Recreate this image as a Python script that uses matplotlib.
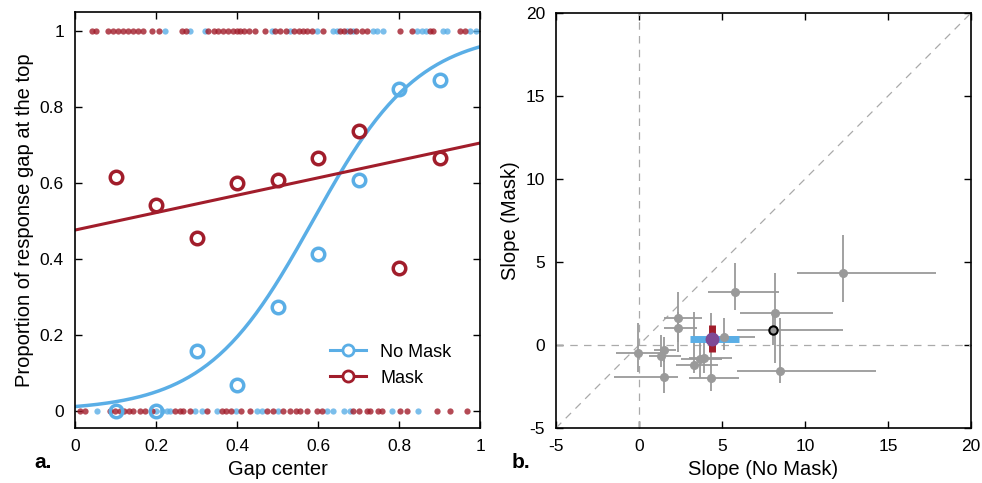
import matplotlib
matplotlib.use("Agg")
from matplotlib import pyplot as plt
from matplotlib.lines import Line2D
import numpy as np

plt.rcParams["font.family"] = ["Liberation Sans", "DejaVu Sans"]
plt.rcParams["axes.unicode_minus"] = False

blue = "#5aaee6"
red = "#a11d2b"
gray = "#9a9a9a"

# ---- panel a data ----
gap_centers = [0.1, 0.2, 0.3, 0.4, 0.5, 0.6, 0.7, 0.8, 0.9]
prop_nomask = [0.0, 0.0, 0.158, 0.068, 0.274, 0.413, 0.608, 0.847, 0.871]
prop_mask = [0.616, 0.542, 0.455, 0.600, 0.608, 0.666, 0.737, 0.376, 0.666]

# fitted curves (logistic for No Mask, linear for Mask)
nomask_mid = 0.587
nomask_k = 7.6
mask_intercept = 0.476
mask_slope = 0.229

# single trials (rug) at top (1) and bottom (0)
top_red = [0.041, 0.053, 0.082, 0.094, 0.107, 0.119, 0.132, 0.144, 0.156, 0.169,
           0.189, 0.208, 0.263, 0.274, 0.329, 0.342, 0.354, 0.366, 0.378, 0.390,
           0.399, 0.407, 0.418, 0.430, 0.444, 0.469, 0.495, 0.507, 0.520, 0.540,
           0.552, 0.562, 0.572, 0.584, 0.613, 0.655, 0.663, 0.679, 0.695, 0.708,
           0.720, 0.802, 0.831, 0.876, 0.885, 0.951, 0.963]
top_blue = [0.222, 0.284, 0.321, 0.486, 0.530, 0.597, 0.638, 0.647, 0.671, 0.687,
            0.737, 0.745, 0.761, 0.844, 0.856, 0.866, 0.909, 0.918, 0.975, 0.990]
bot_red = [0.012, 0.025, 0.086, 0.098, 0.110, 0.122, 0.134, 0.144, 0.160, 0.172,
           0.189, 0.247, 0.259, 0.267, 0.284, 0.325, 0.362, 0.374, 0.386, 0.410,
           0.432, 0.473, 0.490, 0.514, 0.531, 0.545, 0.556, 0.572, 0.597, 0.610,
           0.687, 0.700, 0.720, 0.728, 0.749, 0.757, 0.802, 0.819, 0.893, 0.926,
           0.967]
bot_blue = [0.054, 0.200, 0.214, 0.226, 0.235, 0.296, 0.313, 0.350, 0.398, 0.449,
            0.461, 0.502, 0.622, 0.638, 0.663, 0.679, 0.782, 0.848]

# ---- panel b data ----
slope_nomask = [-0.05, 1.3, 1.5, 1.5, 2.37, 2.35, 3.3, 3.7, 3.9, 4.35, 5.1, 5.8, 8.2, 8.5, 12.3]
slope_mask = [-0.5, -0.64, -0.3, -1.9, 1.61, 1.04, -1.2, -0.86, -0.8, -2.0, 0.5, 3.2, 1.95, -1.55, 4.32]
nomask_lo = [-1.4, 0.6, 0.9, -1.5, 1.5, 1.5, 2.2, 2.5, 3.0, 3.0, 4.2, 4.15, 6.1, 5.9, 9.5]
nomask_hi = [1.4, 2.5, 2.2, 2.35, 3.8, 3.5, 4.75, 5.0, 5.6, 6.0, 7.0, 8.45, 11.7, 14.3, 17.9]
mask_lo = [-1.6, -1.3, -1.0, -2.9, 0.2, -0.4, -1.7, -2.0, -1.7, -2.8, -0.3, 2.1, -1.1, -2.3, 2.6]
mask_hi = [1.3, 0.6, 0.5, -0.9, 3.2, 2.0, 2.0, 0.4, 0.2, 1.9, 1.6, 4.95, 4.35, 1.6, 6.6]

# highlighted subject
hl_x, hl_y = 8.1, 0.88
hl_xlo, hl_xhi, hl_ylo, hl_yhi = 5.9, 12.3, 0.0, 1.8

# group mean
mean_x, mean_y = 4.4, 0.35
mean_xlo, mean_xhi = 3.1, 6.0
mean_ylo, mean_yhi = -0.45, 1.2

fig = plt.figure(figsize=(9.82, 4.83), dpi=100)
ax1 = fig.add_axes([0.0764, 0.1139, 0.4124, 0.8613])
ax2 = fig.add_axes([0.5662, 0.1139, 0.4226, 0.8592])

# ---- panel a ----
ax1.plot(bot_blue, np.zeros(len(bot_blue)), "o", color=blue, ms=4.5, mec="none", alpha=0.8)
ax1.plot(top_blue, np.ones(len(top_blue)), "o", color=blue, ms=4.5, mec="none", alpha=0.8)
ax1.plot(bot_red, np.zeros(len(bot_red)), "o", color=red, ms=4.5, mec="none", alpha=0.8)
ax1.plot(top_red, np.ones(len(top_red)), "o", color=red, ms=4.5, mec="none", alpha=0.8)

xs = np.linspace(0, 1, 200)
ax1.plot(xs, 1 / (1 + np.exp(-nomask_k * (xs - nomask_mid))), color=blue, lw=2.5)
ax1.plot(xs, mask_intercept + mask_slope * xs, color=red, lw=2.2)
ax1.plot(gap_centers, prop_nomask, "o", mfc="none", mec=blue, mew=2.5, ms=9)
ax1.plot(gap_centers, prop_mask, "o", mfc="none", mec=red, mew=2.5, ms=9)

ax1.set_xlim(0, 1)
ax1.set_ylim(-0.045, 1.05)
ax1.set_xticks([0, 0.2, 0.4, 0.6, 0.8, 1])
ax1.set_xticklabels(["0", "0.2", "0.4", "0.6", "0.8", "1"])
ax1.set_yticks([0, 0.2, 0.4, 0.6, 0.8, 1])
ax1.set_yticklabels(["0", "0.2", "0.4", "0.6", "0.8", "1"])
ax1.set_xlabel("Gap center", fontsize=14.5, labelpad=4)
ax1.set_ylabel("Proportion of response gap at the top", fontsize=14.5)

handles = [Line2D([], [], color=blue, lw=2.2, marker="o", mfc="white", mec=blue, mew=2, ms=8),
           Line2D([], [], color=red, lw=2.2, marker="o", mfc="white", mec=red, mew=2, ms=8)]
ax1.legend(handles, ["No Mask", "Mask"], loc="lower right", bbox_to_anchor=(0.97, 0.06),
           frameon=False, fontsize=13, handlelength=2.0, labelspacing=0.5)
ax1.text(-0.057, -0.082, "a.", transform=ax1.transAxes, fontsize=15, fontweight="bold",
         ha="right", va="center")

# ---- panel b ----
ax2.plot([-5, 20], [-5, 20], color="#aaaaaa", lw=0.9, ls=(0, (6, 5)))
ax2.axvline(0, color="#aaaaaa", lw=0.9, ls=(0, (6, 5)))
ax2.axhline(0, color="#aaaaaa", lw=0.9, ls=(0, (6, 5)))

sx = np.array(slope_nomask)
sy = np.array(slope_mask)
ax2.errorbar(sx, sy, xerr=[sx - np.array(nomask_lo), np.array(nomask_hi) - sx],
             yerr=[sy - np.array(mask_lo), np.array(mask_hi) - sy],
             fmt="o", color=gray, ms=5.5, elinewidth=1.3, capsize=0)
ax2.errorbar([hl_x], [hl_y], xerr=[[hl_x - hl_xlo], [hl_xhi - hl_x]],
             yerr=[[hl_y - hl_ylo], [hl_yhi - hl_y]], fmt="none", ecolor=gray,
             elinewidth=1.3, capsize=0)
ax2.plot(hl_x, hl_y, "o", color=gray, mec="black", mew=1.5, ms=6)

ax2.plot([mean_xlo, mean_xhi], [mean_y, mean_y], color=blue, lw=5, solid_capstyle="butt")
ax2.plot([mean_x, mean_x], [mean_ylo, mean_yhi], color=red, lw=5, solid_capstyle="butt")
ax2.plot(mean_x, mean_y, "o", color="#7e4a96", ms=10, mec="none")

ax2.set_xlim(-5, 20)
ax2.set_ylim(-5, 20)
ax2.set_xticks([-5, 0, 5, 10, 15, 20])
ax2.set_yticks([-5, 0, 5, 10, 15, 20])
ax2.set_xlabel("Slope (No Mask)", fontsize=14.5, labelpad=4)
ax2.set_ylabel("Slope (Mask)", fontsize=14.5)
ax2.text(-0.063, -0.082, "b.", transform=ax2.transAxes, fontsize=15, fontweight="bold",
         ha="right", va="center")

for ax in (ax1, ax2):
    ax.tick_params(direction="in", top=True, right=True, length=5, width=1,
                   labelsize=12.5, pad=8)
    for s in ax.spines.values():
        s.set_linewidth(1.2)

fig.savefig("out.png", dpi=100)
